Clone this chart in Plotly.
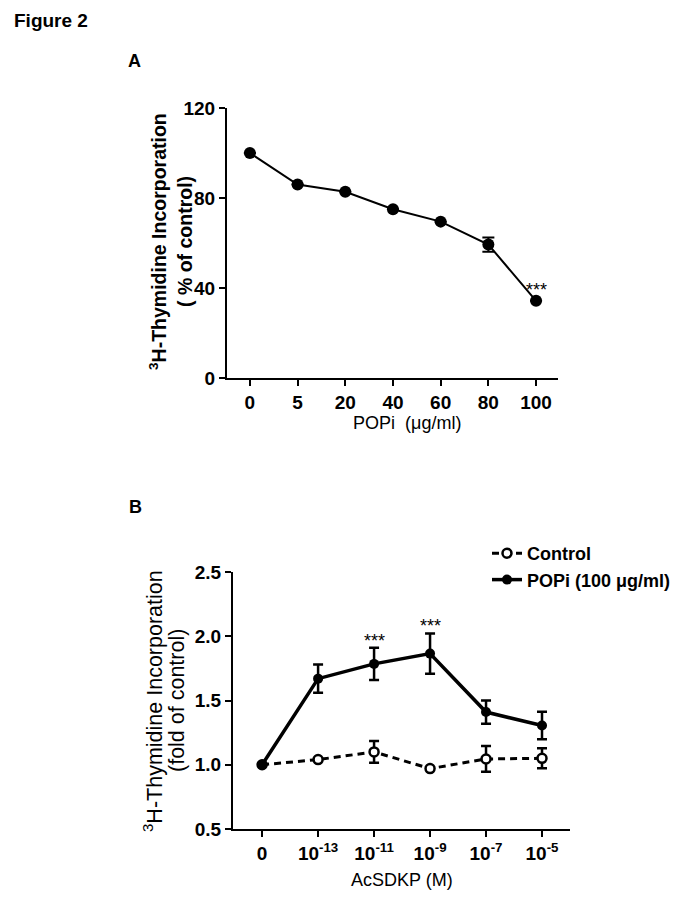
import plotly.graph_objects as go

# ---------------- data ----------------
a_doses = ["0", "5", "20", "40", "60", "80", "100"]
a_values = [100, 86, 82.8, 75, 69.5, 59.3, 34.3]
a_errors = [None, None, None, None, None, 3.2, None]
a_sig = {"100": "***"}

b_conc = ["0", "1e-13", "1e-11", "1e-9", "1e-7", "1e-5"]
b_tick_labels = ["0", "10<sup>-13</sup>", "10<sup>-11</sup>", "10<sup>-9</sup>",
                 "10<sup>-7</sup>", "10<sup>-5</sup>"]
b_control = [1.00, 1.04, 1.10, 0.97, 1.045, 1.05]
b_control_err = [None, None, 0.085, None, 0.10, 0.078]
b_popi = [1.00, 1.67, 1.785, 1.865, 1.41, 1.305]
b_popi_err = [None, 0.11, 0.125, 0.157, 0.09, 0.107]
b_sig = {"1e-11": "***", "1e-9": "***"}

FONT = "Liberation Sans, Arial, sans-serif"
W, H = 683, 898
OFF = 8  # page body margin offset

def px_x(p):
    return (p - OFF) / W

def px_y(p):
    return 1 - (p - OFF) / H

fig = go.Figure()

# Panel A
fig.add_trace(go.Scatter(
    x=a_doses, y=a_values, xaxis="x", yaxis="y", mode="lines+markers",
    line=dict(color="black", width=2),
    marker=dict(color="black", size=12, symbol="circle"),
    error_y=dict(type="data", array=a_errors, color="black", thickness=2, width=6),
    showlegend=False, cliponaxis=False,
))

# Panel B
fig.add_trace(go.Scatter(
    x=b_conc, y=b_control, xaxis="x2", yaxis="y2", mode="lines+markers",
    name="Control",
    line=dict(color="black", width=3, dash="7px,5px"),
    marker=dict(color="white", size=9, symbol="circle",
                line=dict(color="black", width=2.5)),
    error_y=dict(type="data", array=b_control_err, color="black", thickness=2.5, width=5),
    cliponaxis=False,
))
fig.add_trace(go.Scatter(
    x=b_conc, y=b_popi, xaxis="x2", yaxis="y2", mode="lines+markers",
    name="POPi (100 \u03bcg/ml)",
    line=dict(color="black", width=3.5),
    marker=dict(color="black", size=10, symbol="circle"),
    error_y=dict(type="data", array=b_popi_err, color="black", thickness=2.5, width=5),
    cliponaxis=False,
))

axis_common = dict(
    showline=True, linecolor="black", linewidth=2,
    ticks="outside", ticklen=6, tickwidth=2, tickcolor="black",
    showgrid=False, zeroline=False, automargin=False,
    tickfont=dict(family=FONT, size=19, color="black", weight="bold"),
)

annotations = []

# significance stars (categorical axes -> use category index)
for i, lab in enumerate(a_doses):
    if lab in a_sig:
        annotations.append(dict(x=i, y=a_values[i], xref="x", yref="y",
                                text=a_sig[lab], showarrow=False, yshift=11,
                                font=dict(family=FONT, size=18, color="black")))
for i, lab in enumerate(b_conc):
    if lab in b_sig:
        top = b_popi[i] + (b_popi_err[i] or 0)
        annotations.append(dict(x=i, y=top, xref="x2", yref="y2",
                                text=b_sig[lab], showarrow=False, yshift=7,
                                font=dict(family=FONT, size=18, color="black")))

def txt(x, y, text, size=18, bold=False, angle=0, xanchor="center"):
    annotations.append(dict(
        x=px_x(x), y=px_y(y), xref="paper", yref="paper", text=text,
        showarrow=False, textangle=angle, xanchor=xanchor, yanchor="middle",
        font=dict(family=FONT, size=size, color="black",
                  weight="bold" if bold else "normal"),
    ))

txt(12, 21, "Figure 2", size=19, bold=True, xanchor="left")
txt(134, 61, "A", size=18, bold=True)
txt(135, 507, "B", size=18, bold=True)

# Panel A axis titles
txt(158, 242, "<sup>3</sup>H-Thymidine Incorporation", size=19.5, bold=True, angle=-90)
txt(185, 242, "( % of control)", size=19.5, bold=True, angle=-90)
txt(407, 423, "POPi\u00a0 (\u03bcg/ml)", size=18)

# Panel B axis titles
txt(153, 701, "<sup>3</sup>H-Thymidine Incorporation", size=21.5, angle=-90)
txt(177, 701, "(fold of control)", size=21.5, angle=-90)
txt(402, 880, "AcSDKP (M)", size=18)

fig.update_layout(
    width=W, height=H,
    margin=dict(l=0, r=0, t=0, b=0, pad=0, autoexpand=False),
    paper_bgcolor="white", plot_bgcolor="white",
    font=dict(family=FONT, color="black"),
    xaxis=dict(axis_common, domain=[px_x(227), px_x(558)], anchor="y",
               type="category", range=[-0.48, 6.46]),
    yaxis=dict(axis_common, domain=[px_y(378), px_y(108)], anchor="x",
               range=[0, 120], tickvals=[0, 40, 80, 120]),
    xaxis2=dict(axis_common, domain=[px_x(233), px_x(570)], anchor="y2",
                type="category", range=[-0.52, 5.5],
                tickvals=b_conc, ticktext=b_tick_labels),
    yaxis2=dict(axis_common, domain=[px_y(829), px_y(572)], anchor="x2",
                range=[0.5, 2.5], tickvals=[0.5, 1.0, 1.5, 2.0, 2.5],
                tickformat=".1f"),
    legend=dict(x=px_x(487), y=px_y(535), xanchor="left", yanchor="top",
                font=dict(family=FONT, size=18, color="black", weight="bold"),
                bgcolor="rgba(0,0,0,0)", itemwidth=30, tracegroupgap=0),
    annotations=annotations,
)

fig.write_html("out.html")
